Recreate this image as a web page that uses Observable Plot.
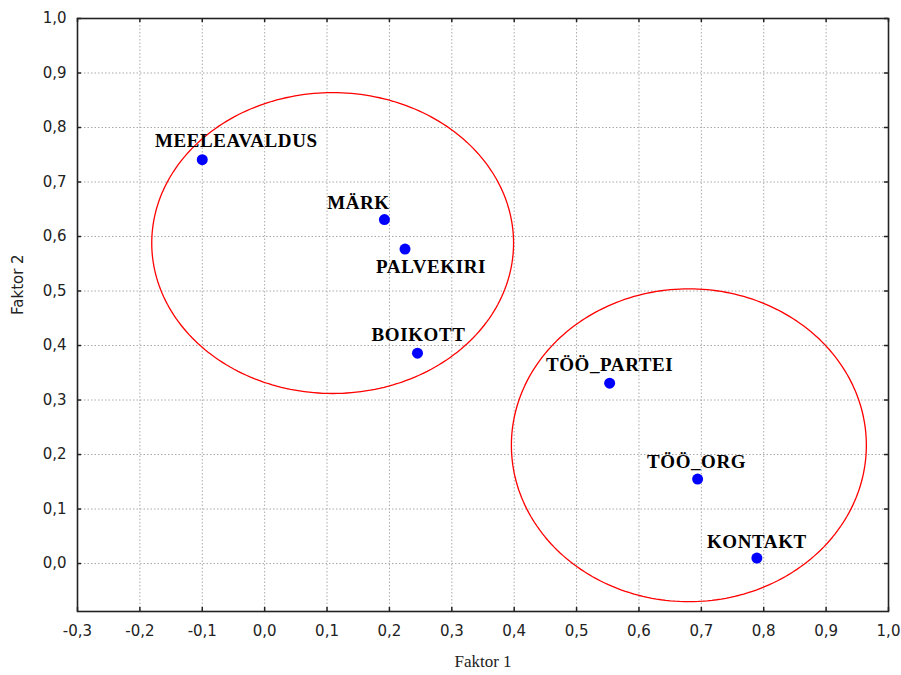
<!DOCTYPE html>
<html>
<head>
<meta charset="utf-8">
<script src="https://cdn.jsdelivr.net/npm/d3@7"></script>
<script src="https://cdn.jsdelivr.net/npm/@observablehq/plot@0.6"></script>
<style>
  html, body { margin: 0; padding: 0; background: #fff; }
  #chart svg { display: block; }
</style>
</head>
<body>
<div id="chart"></div>
<script>
// ---- data ----
const names   = ["MEELEAVALDUS", "MÄRK", "PALVEKIRI", "BOIKOTT", "TÖÖ_PARTEI", "TÖÖ_ORG", "KONTAKT"];
const factor1 = [-0.100, 0.192, 0.225, 0.245, 0.553, 0.694, 0.789];
const factor2 = [0.741, 0.631, 0.577, 0.386, 0.331, 0.155, 0.010];

const xTicks = [-0.3, -0.2, -0.1, 0.0, 0.1, 0.2, 0.3, 0.4, 0.5, 0.6, 0.7, 0.8, 0.9, 1.0];
const yTicks = [0.0, 0.1, 0.2, 0.3, 0.4, 0.5, 0.6, 0.7, 0.8, 0.9, 1.0];

// cluster ellipses: centre and radii (data units)
const ellipseCx = [0.109, 0.680];
const ellipseCy = [0.588, 0.217];
const ellipseRx = [0.290, 0.2845];
const ellipseRy = [0.276, 0.287];

const xTitle = "Faktor 1";
const yTitle = "Faktor 2";

// ---- styling (pixel offsets for the point labels) ----
const labelDx = [34, -26, 26, 1, 0, -1, 0];
const labelDy = [-19, -17, 18, -18, -18, -17, -16];

const points = names.map((n, i) => ({name: n, x: factor1[i], y: factor2[i], dx: labelDx[i], dy: labelDy[i]}));

const ellipsePts = [];
ellipseCx.forEach((cx, k) => {
  for (let j = 0; j <= 240; j++) {
    const t = (j / 240) * 2 * Math.PI;
    ellipsePts.push({k, x: cx + ellipseRx[k] * Math.cos(t), y: ellipseCy[k] + ellipseRy[k] * Math.sin(t)});
  }
});

const fmt = d => d.toFixed(1).replace(".", ",");

const W = 901, H = 675;
const mL = 77, mT = 18, mR = 13, mB = 64;
const plotW = W - mL - mR, plotH = H - mT - mB;
const tickLen = 4;

const chart = Plot.plot({
  width: W,
  height: H,
  marginLeft: mL,
  marginTop: mT,
  marginRight: mR,
  marginBottom: mB,
  style: {background: "#fff", overflow: "visible"},
  x: {domain: [-0.3, 1.0]},
  y: {domain: [-0.088, 1.0]},
  marks: [
    Plot.gridX(xTicks, {stroke: "#aaaaaa", strokeOpacity: 1, strokeDasharray: "1.5,2"}),
    Plot.gridY(yTicks, {stroke: "#aaaaaa", strokeOpacity: 1, strokeDasharray: "1.5,2"}),
    // inward tick marks on all four sides
    Plot.ruleX(xTicks, {x: d => d, insetTop: plotH - tickLen, stroke: "#222", strokeWidth: 1.5}),
    Plot.ruleX(xTicks, {x: d => d, insetBottom: plotH - tickLen, stroke: "#222", strokeWidth: 1.5}),
    Plot.ruleY(yTicks, {y: d => d, insetRight: plotW - tickLen, stroke: "#222", strokeWidth: 1.5}),
    Plot.ruleY(yTicks, {y: d => d, insetLeft: plotW - tickLen, stroke: "#222", strokeWidth: 1.5}),
    Plot.axisX(xTicks, {tickSize: 0, tickPadding: 14, tickFormat: fmt, label: null,
      fontSize: 15, fontFamily: "DejaVu Sans", fill: "#222"}),
    Plot.axisY(yTicks, {tickSize: 0, tickPadding: 11, tickFormat: fmt, label: null,
      fontSize: 15, fontFamily: "DejaVu Sans", fill: "#222"}),
    Plot.line(ellipsePts, {x: "x", y: "y", z: "k", stroke: "#ff0000", strokeWidth: 1.3, curve: "linear"}),
    Plot.dot(points, {x: "x", y: "y", r: 5.5, fill: "#0000ff", stroke: null}),
    Plot.text(points, {x: "x", y: "y", text: "name",
      fontSize: 19, fontWeight: "bold", fontFamily: "Liberation Serif, Times New Roman, serif",
      fill: "#000", textAnchor: "middle", lineAnchor: "middle"}),
    Plot.frame({stroke: "#222", strokeWidth: 1.6}),
    Plot.text([xTitle], {frameAnchor: "bottom", dy: 55, text: d => d, fontSize: 17,
      fontFamily: "Liberation Serif, Times New Roman, serif", fill: "#222"}),
    Plot.text([yTitle], {frameAnchor: "left", dx: -59, rotate: -90, text: d => d, fontSize: 15,
      fontFamily: "DejaVu Sans", fill: "#222"})
  ]
});

const svg = chart;
document.getElementById("chart").appendChild(svg);
// apply per-label pixel offsets to the point labels
svg.querySelectorAll("text").forEach(t => {
  const i = names.indexOf(t.textContent);
  if (i >= 0) {
    const tr = t.getAttribute("transform") || "";
    t.setAttribute("transform", tr + ` translate(${points[i].dx},${points[i].dy})`);
    t.style.letterSpacing = "0.6px";
  }
  // tick labels
  if (/^-?[\d],\d$/.test(t.textContent.replace("\u2212", "-"))) {
    t.style.fontSize = "15px";
    t.style.fontFamily = "DejaVu Sans";
  }
});
</script>
</body>
</html>
